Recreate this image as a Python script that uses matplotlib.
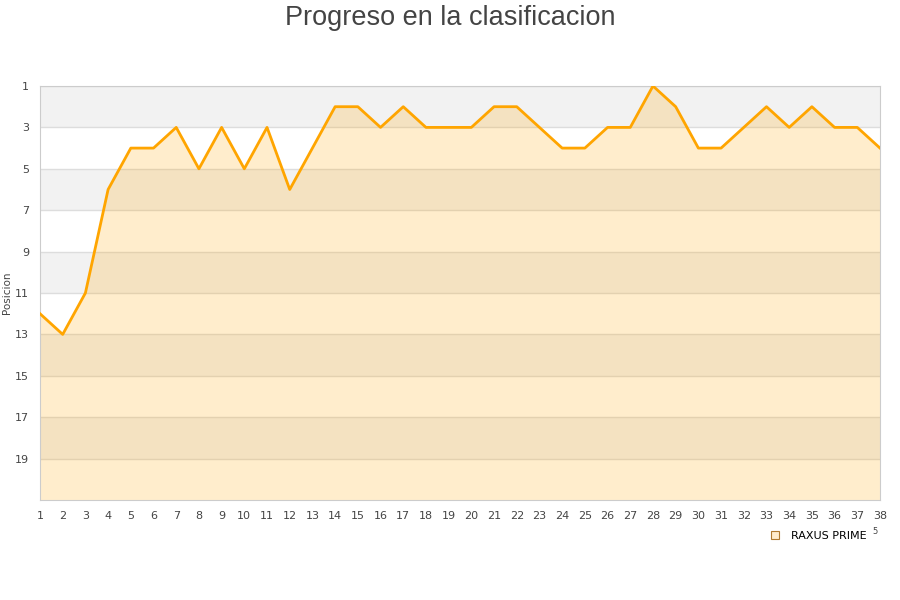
import matplotlib
matplotlib.use('Agg')
import matplotlib.pyplot as plt
from matplotlib.lines import Line2D

# jornadas and position in the table
jornadas = list(range(1, 39))
posicion = [12, 13, 11, 6, 4, 4, 3, 5, 3, 5, 3, 6, 4, 2, 2, 3, 2, 3, 3, 3,
            2, 2, 3, 4, 4, 3, 3, 1, 2, 4, 4, 3, 2, 3, 2, 3, 3, 4]
y_ticks = list(range(1, 20, 2))
team = 'RAXUS PRIME'
title = 'Progreso en la clasificacion'

fig = plt.figure(figsize=(9, 6), dpi=100)
ax = fig.add_axes([40 / 900, 1 - 500 / 600, 840 / 900, 414 / 600])

# alternating grey bands
for start in range(1, 21, 4):
    ax.axhspan(start, start + 2, color='#f2f2f2', lw=0, zorder=0)
for y in y_ticks:
    ax.axhline(y, color='#dddddd', lw=1, zorder=1)

ax.fill_between(jornadas, posicion, 21, color='#ffa500', alpha=0.2, lw=0, zorder=2)
ax.plot(jornadas, posicion, color='#ffa500', lw=2, zorder=3)

ax.set_xlim(1, 38)
ax.set_ylim(21, 1)
ax.set_xticks(jornadas)
ax.set_yticks(y_ticks)
ax.tick_params(length=0, labelsize=8, colors='#444444', pad=8)
for side in ['top', 'right', 'bottom', 'left']:
    ax.spines[side].set_color('#cccccc')
ax.set_ylabel('Posicion', fontsize=7.5, color='#444444', labelpad=2)

fig.text(0.5, 1 - 18 / 600, title, ha='center', va='center', fontsize=19.5,
         color='#444444', family='Liberation Sans')

handle = Line2D([], [], marker='s', ls='none', markersize=6,
                markerfacecolor='#ffeccc', markeredgecolor='#b07a30', markeredgewidth=0.8)
fig.legend([handle], [team], loc='center', bbox_to_anchor=(815 / 900, 1 - 536 / 600),
           frameon=False, fontsize=8, handletextpad=0.4)
fig.text(875 / 900, 1 - 532 / 600, '5', fontsize=6, color='#444444', ha='center', va='center')

fig.savefig('out.png', dpi=100)
